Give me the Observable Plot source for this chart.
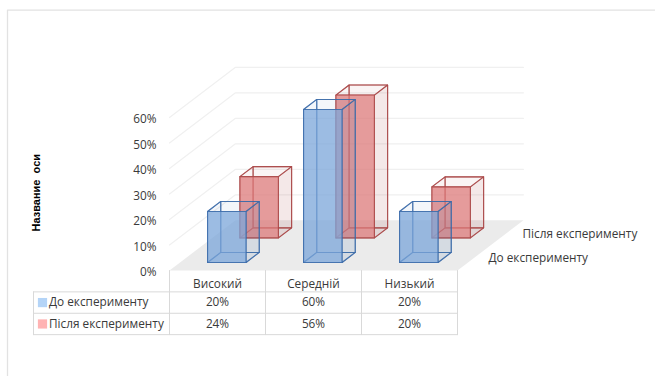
<!DOCTYPE html>
<html>
<head>
<meta charset="utf-8">
<script src="https://cdn.jsdelivr.net/npm/d3@7"></script>
<script src="https://cdn.jsdelivr.net/npm/@observablehq/plot@0.6"></script>
<style>
  html, body { margin: 0; padding: 0; background: #fff; }
  svg { display: block; }
</style>
</head>
<body>
<div id="chart"></div>
<script>
const categories = ["Високий", "Середній", "Низький"];
const seriesNames = ["До експерименту", "Після експерименту"];
const before = [20, 60, 20];
const after = [24, 56, 20];
const yTicks = [0, 10, 20, 30, 40, 50, 60];
const axisTitle = "Название\u00a0\u00a0оси";

// Oblique projection: one unit of depth shifts right and up on the page.
const DX = 66 / 96;      // category units per unit of depth
const DY = 50 / 2.54;    // percent units per unit of depth
const project = (c, v, d) => ({x: c + d * DX, y: v + d * DY});

const BAR_W = 38.5 / 96;
const BAR_D = 0.2;
const INSET = 27.5 / 96;
const rowH = 21.3 / 2.54;
const PXX = 1 / 96;      // one page pixel in category units
const PXY = 1 / 2.54;    // one page pixel in percent units

// The six faces of a column: back and hidden faces first, then the visible ones.
function faces(cat, value, d0) {
  const c0 = cat + INSET, c1 = c0 + BAR_W, d1 = d0 + BAR_D;
  const P = project;
  return {
    hidden: [
      [P(c0,0,d1), P(c1,0,d1), P(c1,value,d1), P(c0,value,d1), P(c0,0,d1)],
      [P(c0,0,d0), P(c0,0,d1), P(c0,value,d1), P(c0,value,d0), P(c0,0,d0)],
      [P(c0,0,d0), P(c1,0,d0), P(c1,0,d1), P(c0,0,d1), P(c0,0,d0)]
    ],
    front: [P(c0,0,d0), P(c1,0,d0), P(c1,value,d0), P(c0,value,d0), P(c0,0,d0)],
    side: [P(c1,0,d0), P(c1,0,d1), P(c1,value,d1), P(c1,value,d0), P(c1,0,d0)],
    top: [P(c0,value,d0), P(c1,value,d0), P(c1,value,d1), P(c0,value,d1), P(c0,value,d0)]
  };
}

function barMarks(values, d0, edge, fill) {
  const marks = [];
  values.forEach((v, i) => {
    const f = faces(i, v, d0);
    const style = {x: "x", y: "y", stroke: edge, strokeWidth: 1.1, strokeOpacity: 0.75, strokeLinejoin: "round"};
    // Hidden edges, seen through the translucent faces
    f.hidden.forEach(h => marks.push(Plot.line(h, {...style, fill: "none"})));
    marks.push(Plot.line(f.side, {...style, fill: edge, fillOpacity: 0.12}));
    marks.push(Plot.line(f.top, {...style, fill: edge, fillOpacity: 0.06}));
    marks.push(Plot.line(f.front, {...style, fill, fillOpacity: 0.75}));
  });
  return marks;
}

const BLUE = "#7ba6da", BLUE_EDGE = "#3a6aa8";
const RED = "#dc7a7a", RED_EDGE = "#a84444";
const depthFront = 0.16, depthBack = 0.65;

const floor = [project(0,0,0), project(3,0,0), project(3,0,1), project(0,0,1), project(0,0,0)];

const gridlines = yTicks.filter(t => t > 0).flatMap(t => [
  {t, ...project(0, t, 0)},
  {t, ...project(0, t, 1)},
  {t, ...project(3, t, 1)}
]);

// Data table below the plot: header row plus one row per series
const rows = seriesNames.map((name, r) => ({name, values: r === 0 ? before : after, y: -rowH * (r + 1.5)}));
const tableCells = rows.flatMap(row => row.values.map((v, i) => ({x: i + 0.5, y: row.y, label: v + "%"})));
const tableLeft = -136 * PXX;
const rules = [
  ...[1, 2, 3].map(k => [{x: tableLeft, y: -rowH * k}, {x: 3, y: -rowH * k}]),
  ...[0, 1, 2, 3].map(k => [{x: k, y: 0}, {x: k, y: -rowH * 3}]),
  [{x: tableLeft, y: -rowH}, {x: tableLeft, y: -rowH * 3}]
];

// Frame along the top and left of the chart area
const frameX = -162 * PXX, frameTop = 107 * PXY + 60;
const frameLine = [
  {x: frameX, y: -106 * PXY},
  {x: frameX, y: frameTop},
  {x: 3 + 198 * PXX, y: frameTop}
];

const textFont = "'Open Sans', 'Noto Sans', sans-serif";
const ink = "#3a3a3a";

const plot = Plot.plot({
  width: 655,
  height: 376,
  marginLeft: 169,
  marginRight: 198,
  marginTop: 117,
  marginBottom: 106,
  x: {domain: [0, 3], axis: null},
  y: {domain: [0, 60]},
  style: {background: "#fff", fontFamily: textFont, fontSize: "11.8px", color: ink, overflow: "visible"},
  marks: [
    Plot.line(frameLine, {x: "x", y: "y", stroke: "#e2e2e2", strokeWidth: 1.3}),
    Plot.line(floor, {x: "x", y: "y", fill: "#ebebeb", stroke: "none"}),
    Plot.line(gridlines, {x: "x", y: "y", z: "t", stroke: "#f0f0f0", strokeWidth: 1.2}),
    ...barMarks(after, depthBack, RED_EDGE, RED),
    ...barMarks(before, depthFront, BLUE_EDGE, BLUE),
    Plot.axisY({ticks: yTicks, tickSize: 0, tickPadding: 13, tickFormat: d => d + "%", label: null, fill: ink, dy: 2}),
    Plot.text([axisTitle], {
      x: () => -133 * PXX, y: () => 30.5, text: d => d, rotate: -90,
      fontWeight: "bold", fontFamily: "'Liberation Sans', sans-serif", fontSize: 11, fill: "#000"
    }),
    ...rules.map(r => Plot.line(r, {x: "x", y: "y", stroke: "#d9d9d9", strokeWidth: 1})),
    Plot.text(categories, {x: (d, i) => i + 0.5, y: () => -rowH * 0.62, text: d => d, fill: ink}),
    Plot.text(tableCells, {x: "x", y: "y", text: "label", fill: ink}),
    // Legend keys inside the table's first column
    Plot.dot(rows, {
      x: () => -127 * PXX, y: "y", symbol: "square", r: 5.2,
      fill: (d, i) => ["#b4d4f7", "#ffb3b3"][i], stroke: "none"
    }),
    Plot.text(rows, {
      x: () => -120.5 * PXX, y: "y", text: "name", textAnchor: "start", fill: ink
    }),
    // Depth-axis labels
    Plot.text([seriesNames[0]], {x: () => 3 + 31 * PXX, y: () => 5, text: d => d, textAnchor: "start", fill: ink}),
    Plot.text([seriesNames[1]], {x: () => 3 + 65 * PXX, y: () => 14.4, text: d => d, textAnchor: "start", fill: ink})
  ]
});
document.getElementById("chart").append(plot);
</script>
</body>
</html>
